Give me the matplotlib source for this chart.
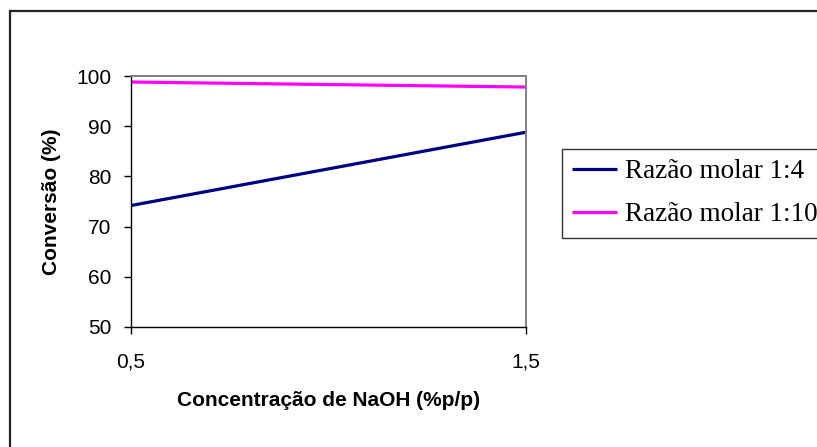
import matplotlib.pyplot as plt
from matplotlib.patches import Rectangle

# data
naoh = [0.5, 1.5]
razao_1_4 = [74.2, 88.8]
razao_1_10 = [98.8, 97.8]
xticks = [0.5, 1.5]
xtick_labels = ['0,5', '1,5']
yticks = [50, 60, 70, 80, 90, 100]

W, H = 817, 447
fig = plt.figure(figsize=(W / 100, H / 100), dpi=100)
fig.patch.set_facecolor('white')

# outer chart border (right and bottom fall outside the picture)
fig.patches.append(Rectangle((10 / W, -0.5), 2.0, 1.5 - 11 / H, transform=fig.transFigure,
                             fill=False, edgecolor='#222222', linewidth=1.6, zorder=0))

ax = fig.add_axes([131 / W, 1 - 327 / H, (526 - 131) / W, (327 - 76) / H])

ax.plot(naoh, razao_1_4, color='#000080', linewidth=2.3, label='Razão molar 1:4', solid_capstyle='butt')
ax.plot(naoh, razao_1_10, color='#FF00FF', linewidth=2.3, label='Razão molar 1:10', solid_capstyle='butt')

ax.set_xlim(0.5, 1.5)
ax.set_ylim(50, 100)
ax.set_xticks(xticks)
ax.set_xticklabels(xtick_labels)
ax.set_yticks(yticks)

for s in ['top', 'right']:
    ax.spines[s].set_color('#808080')
    ax.spines[s].set_linewidth(1.4)
for s in ['left', 'bottom']:
    ax.spines[s].set_color('black')
    ax.spines[s].set_linewidth(1.0)

ax.tick_params(axis='y', direction='out', length=5, width=1, pad=9, labelsize=15)
ax.tick_params(axis='x', direction='out', length=5, width=1, pad=13.5, labelsize=15)
for lab in ax.get_xticklabels() + ax.get_yticklabels():
    lab.set_fontfamily('Liberation Sans')

ax.set_xlabel('Concentração de NaOH (%p/p)', fontsize=15, fontweight='bold',
              family='Liberation Sans', labelpad=14)
ax.set_ylabel('Conversão (%)', fontsize=15, fontweight='bold',
              family='Liberation Sans', labelpad=11)

leg = fig.legend(loc='upper left', bbox_to_anchor=(562 / W, 1 - 149 / H),
                 borderaxespad=0, frameon=True, fancybox=False,
                 prop={'family': 'Liberation Serif', 'size': 19.5},
                 handlelength=1.65, handletextpad=0.3, labelspacing=0.67,
                 borderpad=0.38)
leg.get_frame().set_edgecolor('black')
leg.get_frame().set_linewidth(1.0)

fig.savefig('out.png', dpi=100)
